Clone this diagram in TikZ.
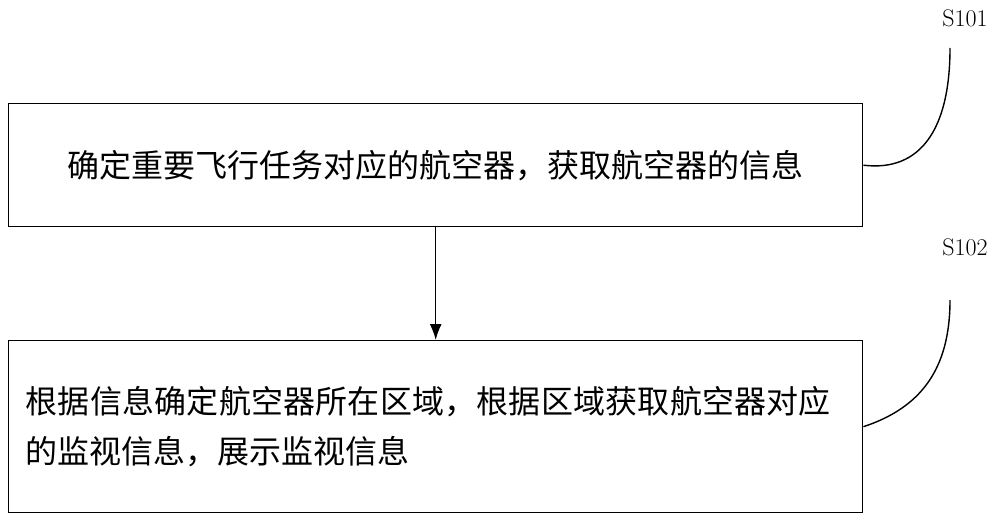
\documentclass[tikz,border=0pt]{standalone}
\usepackage{fontspec}
\newfontfamily\cjk{Noto Sans CJK SC}
\XeTeXlinebreaklocale "zh"
\XeTeXlinebreakskip=0pt plus 1pt
\usetikzlibrary{positioning, arrows.meta}
\begin{document}
\begin{tikzpicture}[x=1pt,y=-1pt,>=latex,line width=1.4pt,
    stepbox/.style={draw,minimum width=854pt,anchor=north west,font=\cjk\fontsize{32}{50}\selectfont},
    tag/.style={font=\fontsize{24}{28}\selectfont}]
    \useasboundingbox (0,0) rectangle (1000,519);
    \node[stepbox,minimum height=123pt] (s1) at (8,103) {确定重要飞行任务对应的航空器，获取航空器的信息};
    \node[stepbox,minimum height=172pt,text width=820pt,align=left] (s2) at (8,340) {根据信息确定航空器所在区域，根据区域获取航空器对应的监视信息，展示监视信息};
    \node[tag] (t1) at (965,18) {S101};
    \node[tag] (t2) at (965,247) {S102};
    \draw[-{Latex[length=16pt,width=12pt]}] (s1) -- (s2);
    \draw (s1.east) .. controls (920,172) and (950,130) .. (950,48);
    \draw (s2.east) .. controls (920,408) and (950,370) .. (950,300);
\end{tikzpicture}
\end{document}
